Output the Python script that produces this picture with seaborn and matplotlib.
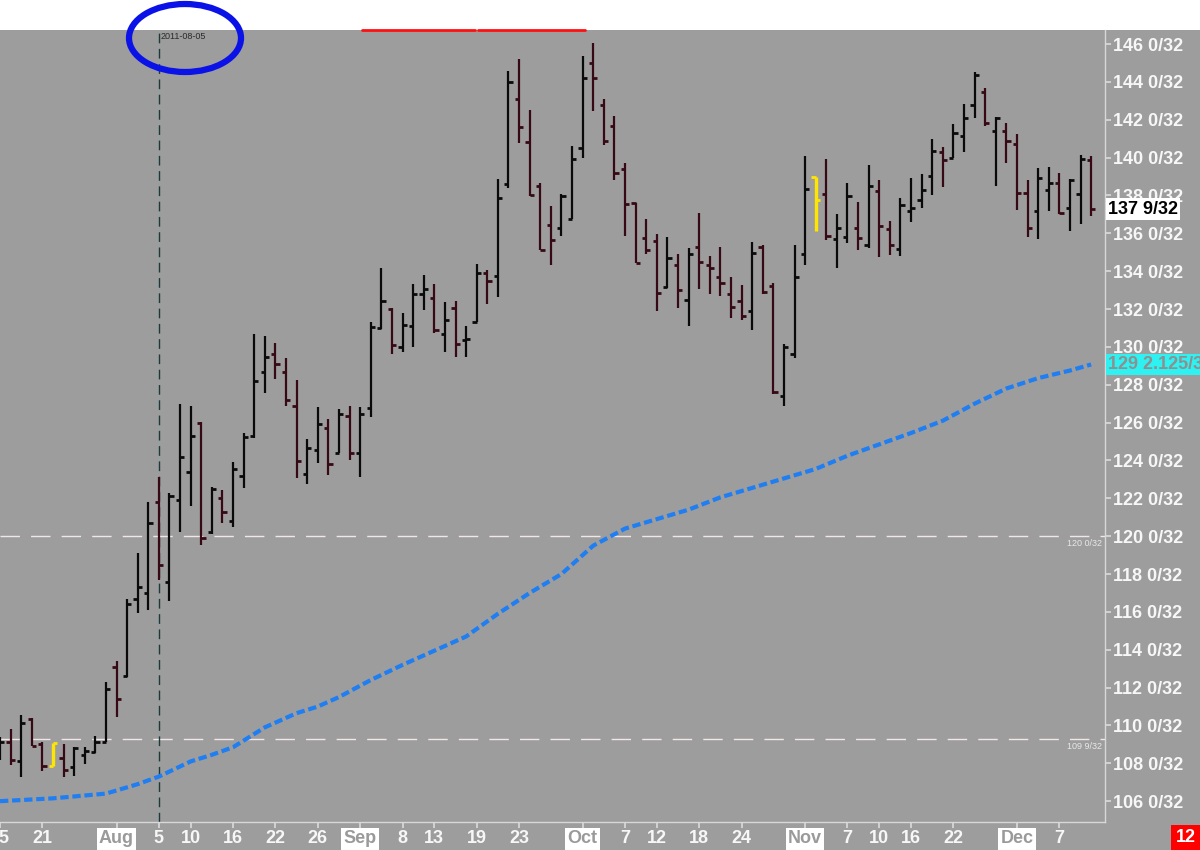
import numpy as np
import pandas as pd
import seaborn as sns
import matplotlib.pyplot as plt
from matplotlib.patches import Ellipse, Rectangle
from matplotlib.lines import Line2D

# trading days shown (bond market holidays dropped)
holidays = ['2011-09-05', '2011-11-11', '2011-11-24']
dates = pd.bdate_range('2011-07-15', '2011-12-12')
dates = dates[~dates.isin(pd.to_datetime(holidays))]

opens = [108.6, 109.1, 108.1, 110.35, 109.0, 107.85, 108.3, 107.8, 108.45, 108.6,
         109.1, 113.1, 112.6, 116.7, 117.0, 121.8, 117.6, 121.9, 123.4, 126.0,
         120.2, 122.0, 120.8, 123.2, 125.3, 128.65, 129.65, 128.65, 126.9, 123.3,
         124.55, 125.7, 124.4, 126.35, 124.4, 126.75, 131.0, 132.0, 130.0, 131.1,
         132.8, 132.6, 130.7, 132.05, 130.35, 131.3, 133.9, 133.75, 138.6, 143.1,
         140.8, 138.5, 136.45, 136.3, 136.75, 140.5, 145.0, 142.8, 141.65, 139.4,
         137.6, 135.75, 135.6, 133.15, 134.3, 132.45, 135.25, 134.3, 133.7, 132.8,
         132.4, 131.9, 135.3, 133.2, 127.4, 129.65, 134.9, 139.0, 138.1, 135.7,
         135.8, 136.3, 135.4, 138.25, 136.25, 135.15, 137.2, 137.75, 139.05, 140.3,
         140.0, 141.15, 142.8, 143.45, 141.4, 141.4, 140.7, 138.15, 137.2, 138.3,
         138.65, 137.35, 138.05, 139.85]
highs = [109.4, 109.8, 110.55, 110.4, 109.1, 109.05, 109.0, 108.85, 108.85, 109.45,
         112.3, 113.4, 116.7, 119.1, 121.8, 123.1, 122.3, 127.0, 126.9, 126.05,
         122.6, 122.45, 123.9, 125.45, 130.7, 130.55, 130.2, 129.4, 128.25, 125.15,
         126.8, 126.2, 126.7, 126.9, 126.85, 131.3, 134.15, 132.05, 131.8, 133.3,
         133.8, 133.3, 132.35, 132.4, 131.1, 134.4, 134.05, 138.85, 144.6, 145.2,
         142.5, 138.65, 137.45, 138.1, 140.6, 145.35, 146.05, 143.1, 142.2, 139.7,
         137.6, 136.75, 135.95, 135.8, 134.9, 135.2, 137.05, 134.8, 135.25, 133.7,
         133.25, 135.55, 135.4, 133.4, 130.15, 135.4, 140.1, 139.0, 139.9, 137.0,
         138.65, 137.65, 139.6, 138.8, 136.65, 137.85, 138.9, 139.15, 141.0, 140.55,
         141.75, 142.85, 144.5, 143.65, 142.15, 141.85, 141.25, 138.8, 139.45, 139.5,
         139.2, 138.85, 140.15, 140.1]
lows = [108.2, 107.9, 107.3, 108.9, 107.6, 107.85, 107.3, 107.35, 107.95, 108.55,
        109.1, 110.45, 112.55, 115.95, 116.1, 117.7, 116.6, 120.2, 121.6, 119.55,
        120.1, 120.7, 120.5, 122.55, 125.2, 127.55, 128.3, 126.9, 123.05, 122.75,
        123.85, 123.25, 124.4, 124.0, 123.1, 126.3, 130.95, 129.65, 129.75, 130.0,
        131.95, 130.75, 129.75, 129.45, 129.45, 131.3, 132.25, 132.65, 138.4, 140.75,
        137.95, 135.1, 134.3, 135.85, 136.75, 140.0, 142.45, 140.65, 138.8, 135.85,
        134.45, 134.9, 131.9, 133.1, 132.05, 131.1, 133.05, 132.8, 132.7, 131.55,
        131.4, 130.9, 132.8, 127.5, 126.9, 129.4, 134.3, 136.1, 135.65, 134.15,
        135.5, 135.1, 135.2, 134.75, 134.85, 134.8, 136.6, 137.35, 138.0, 138.45,
        140.0, 140.3, 142.1, 141.65, 138.5, 139.7, 137.25, 135.8, 135.7, 137.2,
        137.0, 136.1, 136.5, 136.9]
closes = [109.1, 108.2, 110.15, 108.9, 107.85, 109.05, 107.65, 108.8, 108.65, 109.15,
          111.9, 111.4, 116.4, 117.3, 120.7, 118.5, 122.1, 124.2, 125.3, 119.9,
          122.5, 121.3, 123.55, 125.25, 128.2, 129.45, 129.1, 127.2, 123.95, 124.65,
          125.9, 123.8, 126.45, 124.4, 126.45, 131.05, 132.4, 130.1, 131.15, 132.8,
          133.05, 130.9, 131.4, 130.15, 130.4, 133.9, 133.5, 137.85, 144.0, 141.6,
          138.0, 135.1, 135.65, 137.95, 139.9, 144.2, 144.2, 140.9, 139.2, 137.55,
          134.45, 135.1, 132.85, 134.7, 133.0, 134.9, 134.5, 134.15, 133.35, 132.1,
          131.65, 134.95, 132.9, 127.6, 130.0, 133.7, 138.35, 137.75, 135.85, 136.3,
          137.95, 135.75, 138.5, 136.4, 135.4, 137.5, 137.35, 138.3, 140.35, 139.85,
          141.3, 142.1, 144.35, 141.85, 142.1, 140.9, 138.15, 136.3, 138.9, 138.65,
          137.05, 138.8, 139.9, 137.28]

highlight_days = ['2011-07-22', '2011-11-02']

# moving average
ma_days = ['2011-07-15', '2011-07-22', '2011-07-29', '2011-08-03', '2011-08-05',
           '2011-08-10', '2011-08-12', '2011-08-16', '2011-08-19', '2011-08-24',
           '2011-08-26', '2011-08-30', '2011-09-02', '2011-09-08', '2011-09-13',
           '2011-09-16', '2011-09-21', '2011-09-26', '2011-09-29', '2011-10-04',
           '2011-10-07', '2011-10-12', '2011-10-17', '2011-10-20', '2011-10-25',
           '2011-10-28', '2011-11-02', '2011-11-07', '2011-11-10', '2011-11-16',
           '2011-11-21', '2011-11-25', '2011-11-30', '2011-12-05', '2011-12-08',
           '2011-12-12']
ma_values = [106.0, 106.15, 106.4, 106.9, 107.3,
             108.1, 108.45, 108.85, 109.9, 110.65,
             111.0, 111.5, 112.4, 113.2, 113.95,
             114.7, 115.9, 117.0, 118.0, 119.5,
             120.4, 120.9, 121.4, 122.05, 122.55,
             123.05, 123.55, 124.25, 124.85, 125.45,
             126.1, 127.0, 127.8, 128.35, 128.75,
             129.07]

tick_days = ['2011-07-15', '2011-07-21', '2011-08-01', '2011-08-05', '2011-08-10',
             '2011-08-16', '2011-08-22', '2011-08-26', '2011-09-01', '2011-09-08',
             '2011-09-13', '2011-09-19', '2011-09-23', '2011-10-03', '2011-10-07',
             '2011-10-12', '2011-10-18', '2011-10-24', '2011-11-01', '2011-11-07',
             '2011-11-10', '2011-11-16', '2011-11-22', '2011-12-01', '2011-12-07']
tick_labels = ['15', '21', 'Aug', '5', '10', '16', '22', '26', 'Sep', '8', '13', '19',
               '23', 'Oct', '7', '12', '18', '24', 'Nov', '7', '10', '16', '22', 'Dec', '7']
month_labels = ['Aug', 'Sep', 'Oct', 'Nov', 'Dec']

marker_day = '2011-08-05'
levels = [120.0, 109 + 9 / 32]
level_labels = ['120 0/32', '109 9/32']
price_ticks = list(range(106, 147, 2))
last_label = '137 9/32'
ma_label = '129 2.125/32'
date_flag = '12'

bg = '#9d9d9d'
sns.set_theme(style='ticks', rc={'axes.facecolor': bg, 'figure.facecolor': bg})
plt.rcParams['font.family'] = ['Liberation Sans', 'DejaVu Sans']

fig = plt.figure(figsize=(12, 8.5), dpi=100)
ax = fig.add_axes([0, 28 / 850, 1105 / 1200, 792 / 850])
ax.set_facecolor(bg)

idx = np.arange(len(dates))
o, h, l, c = map(np.array, (opens, highs, lows, closes))
col = np.where(c < o, '#360914', '#0a0a0a').astype(object)
hl = dates.isin(pd.to_datetime(highlight_days))
col[hl] = '#ffe600'
lw = np.where(hl, 2.4, 1.6)

ax.vlines(idx, l, h, colors=list(col), linewidths=lw, zorder=3)
ax.hlines(o, idx - 0.4, idx, colors=list(col), linewidths=2, zorder=3)
ax.hlines(c, idx, idx + 0.4, colors=list(col), linewidths=2, zorder=3)

# moving average
ma_df = pd.DataFrame({'x': dates.get_indexer(pd.to_datetime(ma_days)), 'ma': ma_values})
sns.lineplot(data=ma_df, x='x', y='ma', ax=ax, color='#1f7ef2', linewidth=3, zorder=2)
ax.lines[-1].set_dashes((2.0, 0.9))

# level lines and marker line
for lv, lab in zip(levels, level_labels):
    ax.axhline(lv, color='#f2e6e6', lw=1, dashes=(14, 8), zorder=1)
    ax.text(104.0, lv - 0.15, lab, ha='right', va='top', fontsize=6.5, color='#e8e8e8')
mx = dates.get_loc(pd.Timestamp(marker_day))
ax.axvline(mx, color='#1b3a3a', lw=1, dashes=(7, 4), zorder=1)
ax.text(mx + 0.15, 146.65, marker_day, ha='left', va='top', fontsize=6.5, color='#2a2a2a')

ax.set_xlim(0.066, 104.31)
ax.set_ylim(104.9, 146.74)

# axes styling
for s in ['left', 'top']:
    ax.spines[s].set_visible(False)
for s in ['right', 'bottom']:
    ax.spines[s].set_color('#d8d8d8')
    ax.spines[s].set_linewidth(1)
ax.yaxis.tick_right()
ax.set_yticks(price_ticks)
ax.set_yticklabels([f'{p} 0/32' for p in price_ticks])
ax.set_xticks(dates.get_indexer(pd.to_datetime(tick_days)))
ax.set_xticklabels(tick_labels)
ax.tick_params(axis='both', length=4, color='#d8d8d8', labelsize=13,
               labelcolor='#f7f7f7', pad=2)
for t in ax.get_yticklabels() + ax.get_xticklabels():
    t.set_fontweight('bold')
for t in ax.get_xticklabels():
    if t.get_text() in month_labels:
        t.set_color('#9a9a9a')
        t.set_bbox(dict(boxstyle='square,pad=0.12', fc='white', ec='none'))
ax.set_xlabel('')
ax.set_ylabel('')

# price flags on the right
ax.annotate(last_label, xy=(1.003, c[-1]), xycoords=('axes fraction', 'data'),
            ha='left', va='center', fontsize=13, fontweight='bold', color='black',
            bbox=dict(boxstyle='square,pad=0.12', fc='white', ec='none'), annotation_clip=False)
ax.annotate(ma_label, xy=(1.003, ma_values[-1]), xycoords=('axes fraction', 'data'),
            ha='left', va='center', fontsize=13, fontweight='bold', color='#8f8f8f',
            bbox=dict(boxstyle='square,pad=0.12', fc='#2ef2f2', ec='none'), annotation_clip=False)

# top strip and decorations
fig.add_artist(Rectangle((0, 820 / 850), 1, 30 / 850, transform=fig.transFigure,
                         fc='white', ec='none', zorder=0))
for x0, x1 in [(362, 475), (478, 585)]:
    fig.add_artist(Line2D([x0 / 1200, x1 / 1200], [1 - 29.5 / 850] * 2,
                          transform=fig.transFigure, color='#ff1010', lw=2))
fig.add_artist(Ellipse((185 / 1200, 1 - 38 / 850), 112 / 1200, 68 / 850,
                       transform=fig.transFigure, fill=False, ec='#0a12e8', lw=4.5, zorder=5))
fig.text(1186 / 1200, 1 - 838 / 850, date_flag, ha='center', va='center', fontsize=13,
         fontweight='bold', color='white',
         bbox=dict(boxstyle='square,pad=0.25', fc='#ff0000', ec='none'))

fig.savefig('out.png', dpi=100, facecolor=bg)
